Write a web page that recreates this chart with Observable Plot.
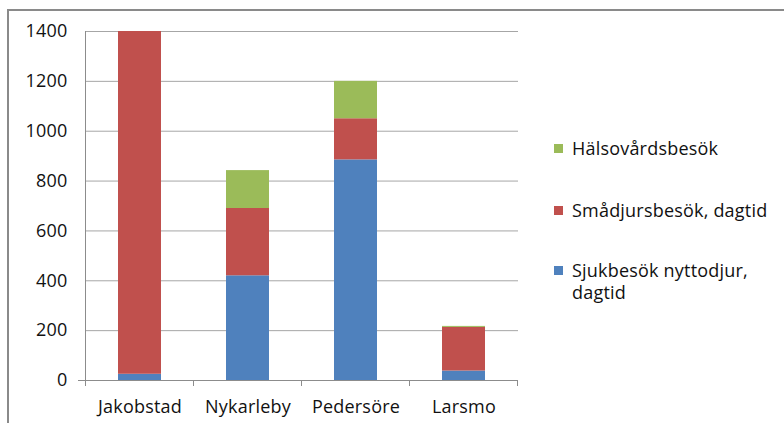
<!DOCTYPE html>
<html>
<head>
<meta charset="utf-8">
<script src="https://cdn.jsdelivr.net/npm/d3@7"></script>
<script src="https://cdn.jsdelivr.net/npm/@observablehq/plot@0.6"></script>
<style>
  html, body { margin: 0; padding: 0; background: #fff; }
  #wrap { position: relative; width: 784px; height: 423px; overflow: hidden; font-family: "Open Sans", sans-serif; color: #111; }
  #frame { position: absolute; left: 7px; top: 9px; width: 800px; height: 430px; border-left: 2px solid #8a8a8a; border-top: 2px solid #8a8a8a; box-sizing: border-box; }
  #chart { position: absolute; left: 0; top: 0; }
  #legend { position: absolute; left: 554px; top: 0; font-size: 18px; letter-spacing: 0.2px; }
  .sw { position: absolute; left: 0; width: 9px; height: 9px; }
  .lbl { position: absolute; left: 18px; white-space: nowrap; line-height: 20px; }
</style>
</head>
<body>
<div id="wrap">
  <div id="frame"></div>
  <div id="chart"></div>
  <div id="legend"></div>
</div>
<script>
const categories = ["Jakobstad", "Nykarleby", "Pedersöre", "Larsmo"];
const seriesNames = ["Sjukbesök nyttodjur, dagtid", "Smådjursbesök, dagtid", "Hälsovårdsbesök"];
const sjukbesok = [25, 420, 885, 38];
const smadjur = [1375, 270, 165, 175];
const halsovard = [0, 152, 150, 4];
const colors = ["#4F81BD", "#C0504D", "#9BBB59"];
const yTicks = [0, 200, 400, 600, 800, 1000, 1200, 1400];

const seriesValues = [sjukbesok, smadjur, halsovard];
const data = [];
categories.forEach((c, i) => {
  seriesNames.forEach((s, j) => data.push({category: c, series: s, value: seriesValues[j][i]}));
});

const chart = Plot.plot({
  width: 784,
  height: 423,
  marginLeft: 86,
  marginRight: 266,
  marginTop: 31,
  marginBottom: 43,
  style: {fontFamily: "'Open Sans', sans-serif", fontSize: "18px", color: "#111", background: "transparent", letterSpacing: "0.2px"},
  x: {domain: categories, paddingInner: 0.6, paddingOuter: 0.3, label: null},
  y: {domain: [0, 1400], label: null},
  color: {domain: seriesNames, range: colors},
  marks: [
    Plot.gridY(yTicks, {stroke: "#a6a6a6", strokeOpacity: 1, strokeWidth: 1}),
    Plot.barY(data, {x: "category", y: "value", fill: "series", order: null}),
    Plot.axisY(yTicks, {tickSize: 0, tickPadding: 19, fontSize: 18, fill: "#111", tickFormat: d3.format("d")}),
    Plot.axisX({tickSize: 0, tickPadding: 20, fontSize: 18, fill: "#111"})
  ]
});

// axis lines and band-boundary ticks derived from Plot's scales
const svg = d3.select(chart);
const xs = chart.scale("x");
const ys = chart.scale("y");
const off = (xs.step - xs.bandwidth) / 2;
const y0 = ys.apply(0);
const yTop = ys.apply(1400);
const xLeft = xs.apply(categories[0]) - off;
const xRight = xs.apply(categories[categories.length - 1]) + xs.bandwidth + off;
const g = svg.append("g").attr("stroke", "#8c8c8c").attr("stroke-width", 1).attr("shape-rendering", "crispEdges");
g.append("line").attr("x1", xLeft).attr("x2", xLeft).attr("y1", yTop).attr("y2", y0 + 6);
g.append("line").attr("x1", xLeft - 8).attr("x2", xRight).attr("y1", y0).attr("y2", y0);
categories.forEach((c) => {
  const bx = xs.apply(c) + xs.bandwidth + off;
  g.append("line").attr("x1", bx).attr("x2", bx).attr("y1", y0).attr("y2", y0 + 6);
});
document.getElementById("chart").appendChild(chart);

// legend (top-to-bottom reverse of stack order)
const legend = document.getElementById("legend");
const legendRows = [
  {color: colors[2], top: 138, lines: ["Hälsovårdsbesök"]},
  {color: colors[1], top: 200, lines: ["Smådjursbesök, dagtid"]},
  {color: colors[0], top: 260, lines: ["Sjukbesök nyttodjur,", "dagtid"]}
];
legendRows.forEach(r => {
  const sw = document.createElement("div");
  sw.className = "sw";
  sw.style.background = r.color;
  sw.style.top = (r.top + 6) + "px";
  legend.appendChild(sw);
  r.lines.forEach((t, k) => {
    const lb = document.createElement("div");
    lb.className = "lbl";
    lb.style.top = (r.top + k * 22) + "px";
    lb.textContent = t;
    legend.appendChild(lb);
  });
});
</script>
</body>
</html>
